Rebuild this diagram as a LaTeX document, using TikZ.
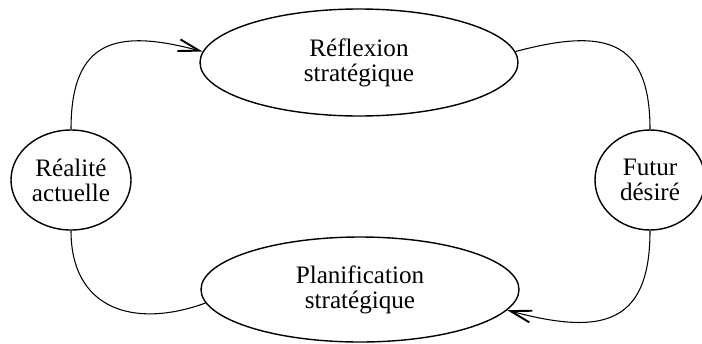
\documentclass[tikz,border=0pt]{standalone}
\usepackage{fontspec}
\setmainfont{Liberation Serif}
\usetikzlibrary{positioning,arrows.meta,shapes.geometric}
\definecolor{ink}{HTML}{000000}

\tikzset{
  bubble/.style={ellipse,draw=ink,line width=0.8pt,inner sep=0pt,align=center,
    font=\fontsize{14.3}{14.2}\selectfont},
  flow/.style={draw=ink,line width=0.6pt},
  tip/.style={-{Straight Barb[length=0.42cm,width=0.24cm,line width=1.1pt]}}
}

\begin{document}
\begin{tikzpicture}[x=1cm,y=1cm]
      \useasboundingbox (0,0) rectangle (14.04,6.86);

      \node[bubble,minimum width=6.36cm,minimum height=2.14cm] (refl) at (7.18,5.61) {Réflexion\\stratégique};
      \node[bubble,minimum width=6.36cm,minimum height=2.10cm] (plan) at (7.20,1.07) {Planification\\stratégique};
      \node[bubble,minimum width=2.40cm,minimum height=2.00cm] (rea) at (1.42,3.26) {Réalité\\actuelle};
      \node[bubble,minimum width=2.20cm,minimum height=2.00cm] (fut) at (13.00,3.26) {Futur\\désiré};

      \draw[flow,tip] (rea.north) to[out=90,in=165,looseness=1.5] (refl.176);
      \draw[flow] (refl.4) to[out=15,in=90,looseness=1.5] (fut.north);
      \draw[flow] (rea.south) to[out=-90,in=200,looseness=1.3] (plan.185);
      \draw[flow,tip] (fut.south) to[out=-90,in=-15,looseness=1.5] (plan.-8);
    \end{tikzpicture}
\end{document}
